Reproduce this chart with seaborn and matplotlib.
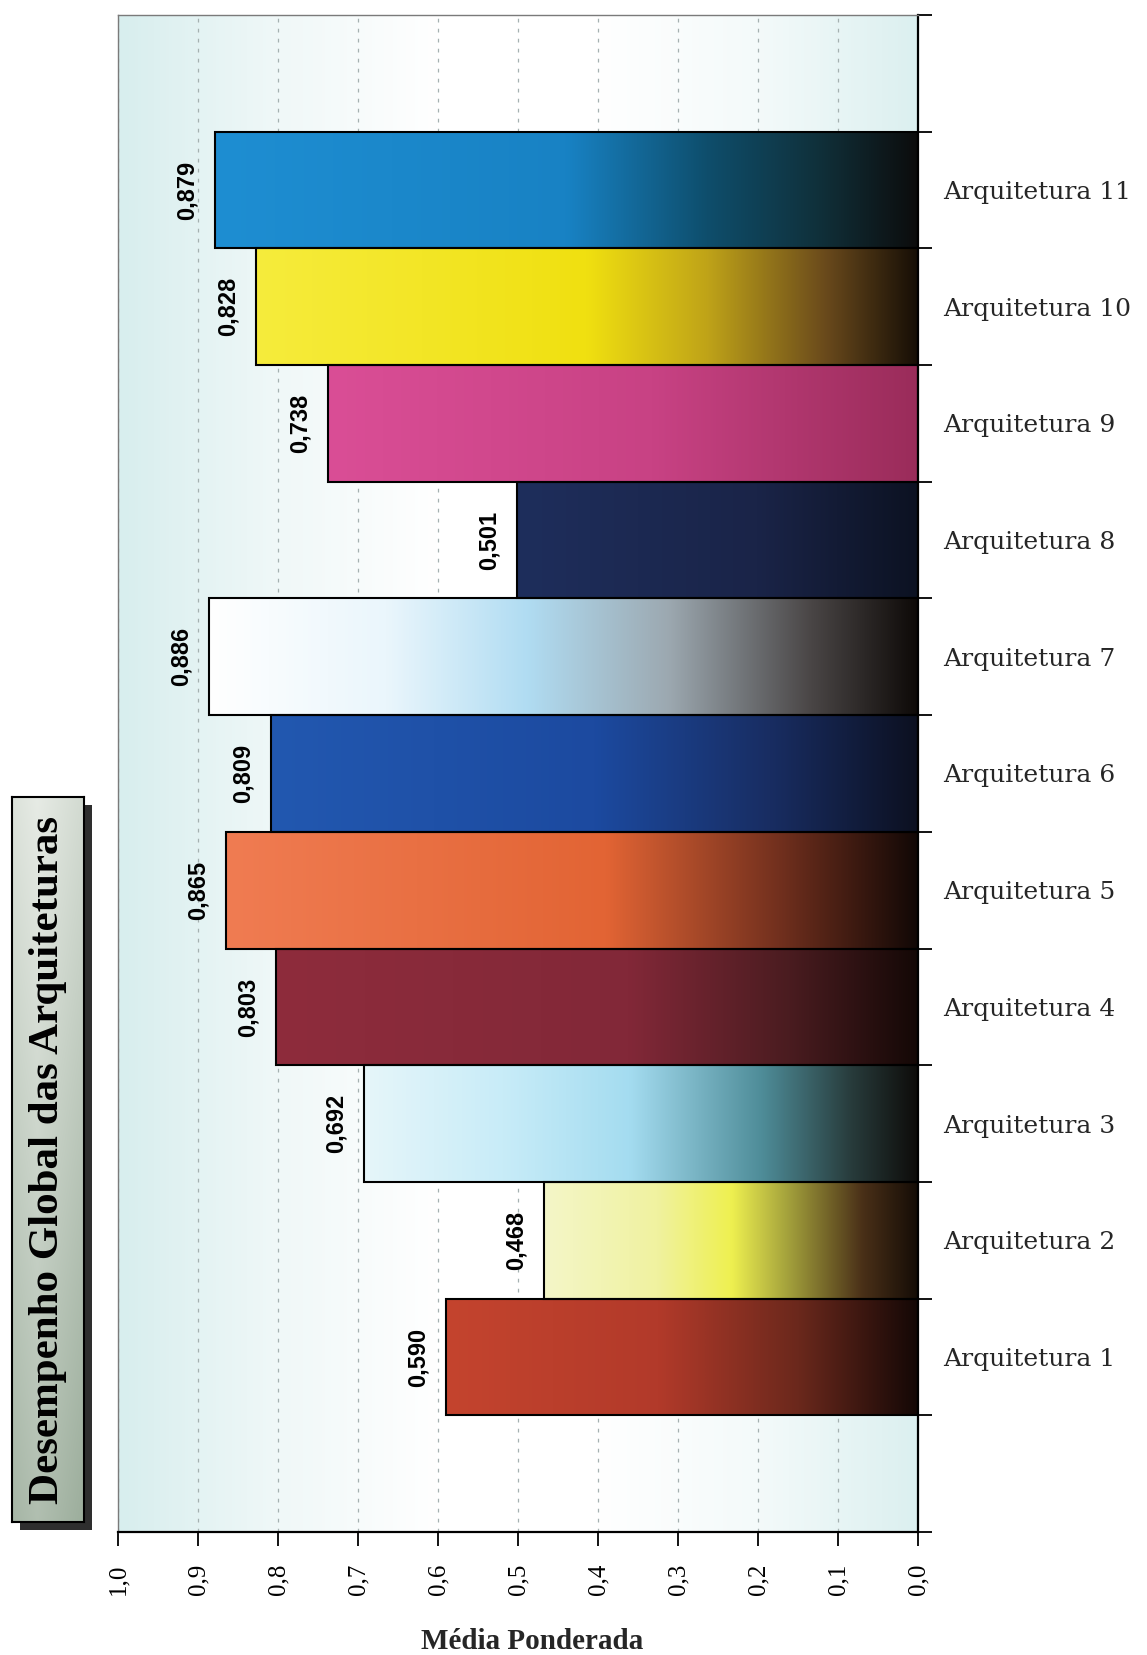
import matplotlib
matplotlib.use("Agg")
import numpy as np
import pandas as pd
import seaborn as sns
import matplotlib.pyplot as plt
from matplotlib.colors import LinearSegmentedColormap, to_rgb
from matplotlib.patches import Rectangle

# ---- dados ----
categorias = ["Arquitetura 1", "Arquitetura 2", "Arquitetura 3", "Arquitetura 4",
              "Arquitetura 5", "Arquitetura 6", "Arquitetura 7", "Arquitetura 8",
              "Arquitetura 9", "Arquitetura 10", "Arquitetura 11"]
medias = [0.590, 0.468, 0.692, 0.803, 0.865, 0.809, 0.886, 0.501, 0.738, 0.828, 0.879]
ticks_x = [0.0, 0.1, 0.2, 0.3, 0.4, 0.5, 0.6, 0.7, 0.8, 0.9, 1.0]
rotulos_x = ["0,0", "0,1", "0,2", "0,3", "0,4", "0,5", "0,6", "0,7", "0,8", "0,9", "1,0"]
titulo = "Desempenho Global das Arquiteturas"
rotulo_eixo = "Média Ponderada"

# degradê de cada barra: da ponta (t=0) até a linha do zero (t=1)
degrades = {
    "Arquitetura 1": [(0.0, "#c4442e"), (0.45, "#b23a2a"), (0.75, "#6a281c"), (1.0, "#140806")],
    "Arquitetura 2": [(0.0, "#f4f6c8"), (0.3, "#f0f2a0"), (0.5, "#eef050"), (0.65, "#a4a23c"),
                      (0.85, "#4a3018"), (1.0, "#140c06")],
    "Arquitetura 3": [(0.0, "#e6f6fa"), (0.25, "#c8ecf8"), (0.48, "#a4dcf0"), (0.72, "#4e8c98"),
                      (0.88, "#283c3c"), (1.0, "#0e0c0a")],
    "Arquitetura 4": [(0.0, "#8e2c3c"), (0.55, "#822838"), (0.8, "#4a1c20"), (1.0, "#140806")],
    "Arquitetura 5": [(0.0, "#f07c52"), (0.55, "#e26434"), (0.8, "#72301e"), (1.0, "#120806")],
    "Arquitetura 6": [(0.0, "#2258b0"), (0.5, "#1c4aa0"), (0.78, "#182c60"), (1.0, "#0c1020")],
    "Arquitetura 7": [(0.0, "#ffffff"), (0.25, "#eaf6fc"), (0.45, "#b0dcf2"), (0.65, "#9ca8b0"),
                      (0.85, "#4a4646"), (1.0, "#0e0a08")],
    "Arquitetura 8": [(0.0, "#1e2e5c"), (0.6, "#1a2448"), (1.0, "#0c1222")],
    "Arquitetura 9": [(0.0, "#da4e96"), (0.55, "#c84284"), (1.0, "#9a2c5a")],
    "Arquitetura 10": [(0.0, "#f6ec3c"), (0.5, "#f0e010"), (0.68, "#c0a418"), (0.86, "#6a4a1c"),
                       (1.0, "#160e06")],
    "Arquitetura 11": [(0.0, "#1e8ed2"), (0.5, "#1882c4"), (0.7, "#0e4e6c"), (0.86, "#10303a"),
                       (1.0, "#0c0c0c")],
}

sns.set_style("white")
plt.rcParams["font.family"] = ["DejaVu Serif"]

W, H = 1147, 1655
fig = plt.figure(figsize=(W / 100, H / 100), dpi=100)
fig.patch.set_facecolor("white")
ax = fig.add_axes([118 / W, 123 / H, 800 / W, 1517 / H])

df = pd.DataFrame({"arquitetura": categorias, "media": medias})
ordem = categorias[::-1]
sns.barplot(data=df, x="media", y="arquitetura", order=ordem, orient="h",
            width=1.0, color="white", edgecolor="black", linewidth=1.5,
            errorbar=None, ax=ax, zorder=3)

xlim = (1.0, 0.0)
ylim = (11.5, -1.5)

# fundo da área de plotagem: ciano claro nas bordas, branco no centro
fundo = LinearSegmentedColormap.from_list(
    "fundo", ["#d8eeee", "#f0f8f8", "#ffffff", "#ffffff", "#f4fafa", "#dcf0f0"])
grad = np.linspace(0, 1, 256).reshape(1, -1)
ax.imshow(grad, cmap=fundo, extent=(xlim[0], xlim[1], ylim[0], ylim[1]),
          aspect="auto", zorder=0, interpolation="bicubic")

# barras com preenchimento em degradê
for barra in ax.patches:
    valor = barra.get_width()
    x0, y0, alt = barra.get_x(), barra.get_y(), barra.get_height()
    yc = y0 + alt / 2
    nome = ordem[int(round(yc))]
    cmap = LinearSegmentedColormap.from_list(nome, degrades[nome])
    im = ax.imshow(grad, cmap=cmap, extent=(x0 + valor, x0, y0 + alt, y0),
                   aspect="auto", zorder=2, interpolation="bicubic")
    im.set_clip_path(barra)
    barra.set_facecolor("none")
    ax.annotate(f"{valor:.3f}".replace(".", ","), xy=(x0 + valor, yc),
                xytext=(-20, 0), textcoords="offset points", rotation=90,
                ha="center", va="center", fontsize=17, fontweight="bold",
                family="Liberation Sans", color="black", zorder=4)

ax.set_xlim(*xlim)
ax.set_ylim(*ylim)

ax.grid(axis="x", color="#a4b0b0", linestyle=(0, (3, 5)), linewidth=0.9)
ax.grid(axis="y", visible=False)
ax.set_axisbelow(True)

# eixo x (invertido)
ax.set_xticks(ticks_x)
ax.set_xticklabels(rotulos_x, rotation=90, fontsize=18, family="Liberation Serif")
ax.tick_params(axis="x", bottom=True, direction="out", length=10, width=1.3,
               pad=13, colors="black")

# eixo das categorias à direita, marcas nos limites das barras
ax.yaxis.tick_right()
ax.set_yticks(range(len(ordem)))
ax.set_yticklabels(ordem, fontsize=18, family="DejaVu Serif")
ax.set_yticks(np.arange(-1.5, 12.0, 1.0), minor=True)
ax.tick_params(axis="y", which="major", length=0, pad=18, left=False, right=True)
ax.tick_params(axis="y", which="minor", length=10, width=1.3, direction="out",
               left=False, right=True, color="black")
ax.set_ylabel("")

ax.set_xlabel(rotulo_eixo, fontsize=21, fontweight="bold", family="Liberation Serif")
ax.xaxis.set_label_coords(0.5175, -0.063)

for lado in ("top", "left"):
    ax.spines[lado].set_visible(True)
    ax.spines[lado].set_color("#7a7a7a")
    ax.spines[lado].set_linewidth(1.0)
for lado in ("right", "bottom"):
    ax.spines[lado].set_visible(True)
    ax.spines[lado].set_color("black")
    ax.spines[lado].set_linewidth(1.6)

# caixa do título com sombra
bx, by, bw, bh = 12, 797, 72, 725
sombra = Rectangle(((bx + 8) / W, 1 - (by + bh + 8) / H), bw / W, bh / H,
                   transform=fig.transFigure, facecolor="#2e2e2e",
                   edgecolor="none", zorder=-1)
fig.add_artist(sombra)
caixa = fig.add_axes([bx / W, 1 - (by + bh) / H, bw / W, bh / H])
v = np.linspace(0, 1, 300)[:, None]
h = np.linspace(0, 1, 60)[None, :]
claro = np.array(to_rgb("#f4f6f2"))
escuro = np.array(to_rgb("#9aac9a"))
mistura = np.clip(0.15 + 0.6 * v + 0.35 * np.abs(h - 0.35), 0, 1)[..., None]
caixa.imshow(claro * (1 - mistura) + escuro * mistura, aspect="auto",
             extent=(0, 1, 0, 1), interpolation="bicubic")
caixa.set_xticks([])
caixa.set_yticks([])
for lado in caixa.spines.values():
    lado.set_visible(True)
    lado.set_color("black")
    lado.set_linewidth(1.5)
caixa.text(0.5, 0.5, titulo, rotation=90, ha="center", va="center",
           fontsize=31, fontweight="bold", family="Liberation Serif",
           transform=caixa.transAxes, color="black")

fig.savefig("out.png", dpi=100)
